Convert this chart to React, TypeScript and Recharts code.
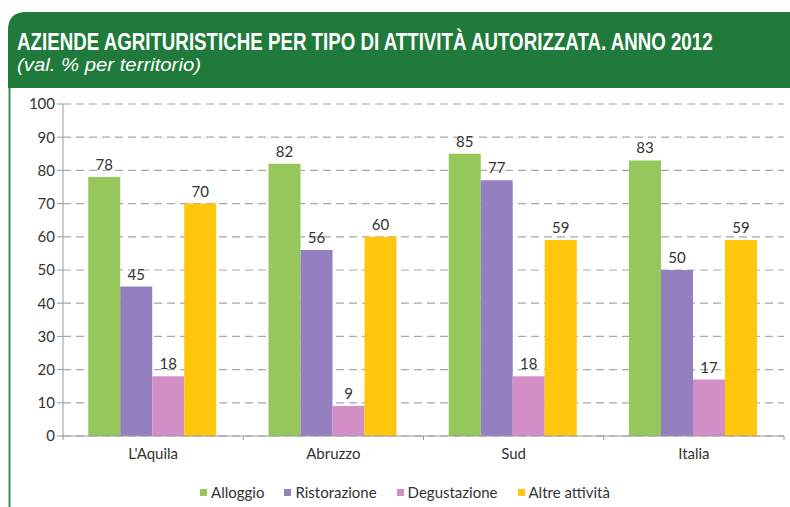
import { Bar, BarChart, CartesianGrid, LabelList, Legend, XAxis, YAxis } from "recharts";

const TITLE = "AZIENDE AGRITURISTICHE PER TIPO DI ATTIVITÀ AUTORIZZATA. ANNO 2012";
const SUBTITLE = "(val. % per territorio)";

const categories = ["L'Aquila", "Abruzzo", "Sud", "Italia"];
const alloggio = [78, 82, 85, 83];
const ristorazione = [45, 56, 77, 50];
const degustazione = [18, 9, 18, 17];
const altreAttivita = [70, 60, 59, 59];
const yTicks = [0, 10, 20, 30, 40, 50, 60, 70, 80, 90, 100];

const SERIES = [
  { key: "alloggio", name: "Alloggio", color: "#95c75b" },
  { key: "ristorazione", name: "Ristorazione", color: "#9480c0" },
  { key: "degustazione", name: "Degustazione", color: "#d48ec6" },
  { key: "altre", name: "Altre attività", color: "#ffc60b" },
];

const HEADER_GREEN = "#1f7a3b";
const FONT = "Lato, 'Open Sans', sans-serif";
const HEADER_FONT = "'Liberation Sans Narrow', 'Liberation Sans', sans-serif";
const TEXT = "#333333";
const AXIS = "#9a9a9a";

const rows = categories.map((name, i) => ({
  name,
  alloggio: alloggio[i],
  ristorazione: ristorazione[i],
  degustazione: degustazione[i],
  altre: altreAttivita[i],
}));

const CategoryTick = function CategoryTick(props: any) {
  const { x, y, payload, index, visibleTicksCount } = props;
  const half = payload?.offset ?? 90;
  const isLast = index === (visibleTicksCount ?? categories.length) - 1;
  return (
    <g>
      <line x1={x - half} x2={x - half} y1={y - 8} y2={y - 4} stroke={AXIS} />
      {isLast ? (
        <line x1={x + half} x2={x + half} y1={y - 8} y2={y - 4} stroke={AXIS} />
      ) : null}
      <text
        x={x}
        y={y + 15}
        textAnchor="middle"
        fill={TEXT}
        fontSize={15}
        fontFamily={FONT}
      >
        {payload.value}
      </text>
    </g>
  );
};

const LegendRow = function LegendRow() {
  return (
    <div
      style={{
        display: "flex",
        justifyContent: "center",
        gap: 20,
        fontFamily: FONT,
        fontSize: 15,
        color: TEXT,
        paddingLeft: 26,
        paddingTop: 6,
      }}
    >
      {SERIES.map((s) => (
        <span key={s.key} style={{ display: "inline-flex", alignItems: "center", gap: 4 }}>
          <span style={{ width: 7, height: 7, background: s.color, display: "inline-block" }} />
          {s.name}
        </span>
      ))}
    </div>
  );
};

export default function App() {
  return (
    <div
      style={{
        position: "absolute",
        left: 0,
        top: 0,
        width: 790,
        height: 507,
        background: "#ffffff",
        overflow: "hidden",
      }}
    >
      <BarChart
        width={790}
        height={507}
        data={rows}
        margin={{ top: 104, right: 6, bottom: 0, left: 0 }}
        barCategoryGap="14%"
        barGap={0}
      >
        <CartesianGrid
          vertical={false}
          stroke="#a8a8a8"
          strokeDasharray="8 5"
          strokeWidth={1.2}
        />
        <XAxis
          dataKey="name"
          type="category"
          axisLine={{ stroke: AXIS }}
          tickLine={false}
          tick={<CategoryTick />}
          height={41}
          interval={0}
        />
        <YAxis
          domain={[0, 100]}
          ticks={yTicks}
          interval={0}
          width={63}
          axisLine={{ stroke: AXIS }}
          tickLine={{ stroke: AXIS }}
          tickSize={6}
          tick={{ fill: TEXT, fontSize: 15, fontFamily: FONT }}
        />
        <Legend verticalAlign="bottom" height={30} content={<LegendRow />} />
        {SERIES.map((s) => (
          <Bar key={s.key} dataKey={s.key} name={s.name} fill={s.color} isAnimationActive={false}>
            <LabelList
              dataKey={s.key}
              position="top"
              offset={7}
              fill={TEXT}
              fontSize={15}
              fontFamily={FONT}
            />
          </Bar>
        ))}
      </BarChart>
      <svg
        width={790}
        height={507}
        style={{ position: "absolute", left: 0, top: 0, pointerEvents: "none" }}
      >
        <path
          d="M8 88 L8 30 Q8 12 26 12 L800 12 L800 88 Z"
          fill={HEADER_GREEN}
        />
        <line x1={9.5} x2={9.5} y1={88} y2={507} stroke="#3f8f5c" strokeWidth={2} />
        <g transform="translate(17 50) scale(0.78 1)">
          <text
            x={0}
            y={0}
            fill="#ffffff"
            fontSize={24}
            fontWeight="bold"
            fontFamily={HEADER_FONT}
          >
            {TITLE}
          </text>
        </g>
        <g transform="translate(17 71) scale(1.07 1)">
          <text
            x={0}
            y={0}
            fill="#ffffff"
            fontSize={19}
            fontStyle="italic"
            fontFamily={HEADER_FONT}
          >
            {SUBTITLE}
          </text>
        </g>
      </svg>
    </div>
  );
}
